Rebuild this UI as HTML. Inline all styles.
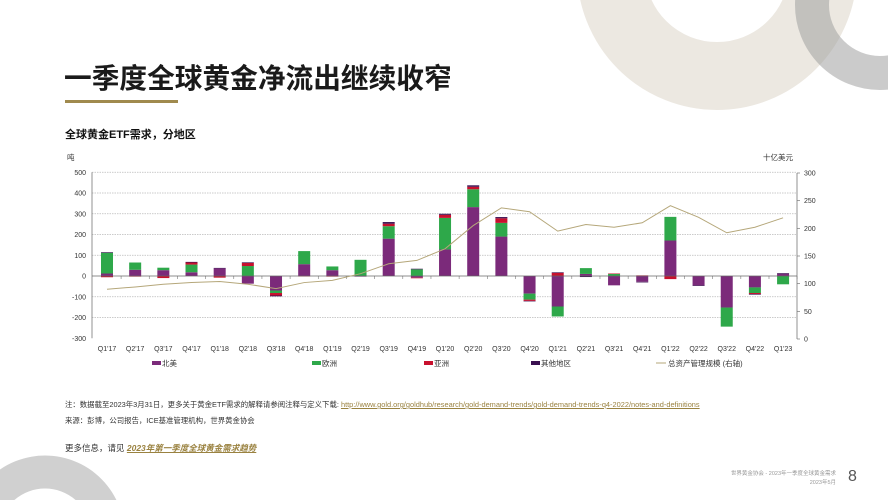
<!DOCTYPE html>
<html style="overflow:hidden;width:888px;height:500px"><head><meta charset="utf-8">
<style>
html,body{margin:0;padding:0}
body{width:888px;height:500px;overflow:hidden;background:#fff;font-family:"Liberation Sans","Noto Sans CJK SC",sans-serif}
#wrap{position:relative;width:888px;height:500px;overflow:hidden}
.abs{position:absolute}
</style></head>
<body>
<div id="wrap">
<svg class="abs" style="left:0;top:0" width="888" height="500">
<circle cx="717" cy="-30" r="106" fill="none" stroke="#ece8e1" stroke-width="68"/>
<circle cx="880" cy="5" r="68" fill="none" stroke="rgba(160,160,160,0.55)" stroke-width="34"/>
<path d="M0,500 L0,469.5 A79.5 79.5 0 0 1 116.4,500 L75.6,500 A46.5 46.5 0 0 0 14.4,500 Z" fill="#d0d0d0"/>
</svg>

<div class="abs" style="left:64px;top:56px;font-size:27.7px;font-weight:bold;color:#1a1a1a">一季度全球黄金净流出继续收窄</div>
<div class="abs" style="left:65px;top:100px;width:113px;height:3px;background:#a08a4e"></div>
<div class="abs" style="left:65px;top:126px;font-size:11px;font-weight:bold;color:#111">全球黄金ETF需求，分地区</div>

<svg class="abs" style="left:0;top:0" width="888" height="500" id="chart"></svg>

<div class="abs" style="left:65px;top:399px;font-size:7.4px;color:#333;white-space:nowrap">注：数据截至2023年3月31日，更多关于黄金ETF需求的解释请参阅注释与定义下载: <span style="color:#9a8240;text-decoration:underline">http://www.gold.org/goldhub/research/gold-demand-trends/gold-demand-trends-q4-2022/notes-and-definitions</span></div>
<div class="abs" style="left:65px;top:415px;font-size:7.4px;color:#333">来源：彭博，公司报告，ICE基准管理机构，世界黄金协会</div>
<div class="abs" style="left:65px;top:442px;font-size:8.5px;color:#333">更多信息，请见 <span style="color:#9a8240;text-decoration:underline;font-style:italic;font-weight:bold">2023年第一季度全球黄金需求趋势</span></div>
<div class="abs" style="left:700px;top:470px;width:136px;text-align:right;font-size:5.5px;color:#999;line-height:9px">世界黄金协会 - 2023年一季度全球黄金需求<br>2023年5月</div>
<div class="abs" style="left:848px;top:468px;font-size:16px;line-height:18px;color:#555">8</div>
</div>

<script>
const categories=["Q1'17","Q2'17","Q3'17","Q4'17","Q1'18","Q2'18","Q3'18","Q4'18","Q1'19","Q2'19","Q3'19","Q4'19","Q1'20","Q2'20","Q3'20","Q4'20","Q1'21","Q2'21","Q3'21","Q4'21","Q1'22","Q2'22","Q3'22","Q4'22","Q1'23"];
const northAmerica=[12,30,28,18,37,-37,-70,57,28,-3,180,-8,128,332,190,-85,-147,10,-45,-28,171,-45,-152,-55,11];
const europe=[100,35,12,37,0,48,-12,63,18,78,60,32,152,86,66,-29,-48,28,10,0,114,0,-92,-27,-40];
const asia=[-6,-3,-10,10,-8,15,-12,-2,-3,0,12,-3,15,12,22,-6,15,0,2,3,-15,0,0,-5,0];
const other=[3,0,0,3,2,3,-4,0,0,0,8,3,5,7,6,-2,3,-5,0,-3,0,-3,0,-3,3];
const aum=[90,94,99,102,104,99,91,102,106,118,136,142,163,205,237,230,195,207,202,210,241,220,192,202,219];
const leftTicks=[500,400,300,200,100,0,-100,-200,-300];
const rightTicks=[300,250,200,150,100,50,0];

const svg=document.getElementById('chart');
const NS='http://www.w3.org/2000/svg';
const X0=107,DX=28.17,BW=12;
const yL=v=>276-v*0.2075;
const yR=v=>339-v*(166/300);
const xC=i=>X0+i*DX;
function mk(t,a){const e=document.createElementNS(NS,t);for(const k in a)e.setAttribute(k,a[k]);svg.appendChild(e);return e;}

leftTicks.forEach(v=>{
  if(v!==0&&v!==-300){const g=mk('line',{x1:92,x2:797,y1:yL(v),y2:yL(v),stroke:'#bbb','stroke-width':0.7,'stroke-dasharray':'1.5,1'});
  
  }
  const t=mk('text',{x:86,y:yL(v)+2.5,'text-anchor':'end','font-size':7,fill:'#333'});
  t.textContent=v;
  
  
});
rightTicks.forEach(v=>{
  const t=mk('text',{x:804,y:yR(v)+2.5,'font-size':7,fill:'#333'});
  t.textContent=v;
  
  
  mk('line',{x1:797,x2:800,y1:yR(v),y2:yR(v),stroke:'#777','stroke-width':0.7});
});
const la=mk('line',{x1:92,x2:92,y1:yL(500),y2:yL(-300),stroke:'#777','stroke-width':0.8});


const ra=mk('line',{x1:797,x2:797,y1:yR(300),y2:yR(0),stroke:'#777','stroke-width':0.8});


const yu=mk('text',{x:67,y:160,'font-size':7.5,fill:'#333'});yu.textContent='吨';


const yu2=mk('text',{x:763,y:160,'font-size':7.5,fill:'#333'});yu2.textContent='十亿美元';



const series=[[northAmerica,'#7b2a7a','bar-north-america'],[europe,'#2ea84a','bar-europe'],[asia,'#c8102e','bar-asia'],[other,'#3a1050','bar-other']];
categories.forEach((c,i)=>{
  let pos=0,neg=0;
  series.forEach(([arr,col,nm])=>{
    const v=arr[i];if(!v)return;
    let a,b;
    if(v>0){a=pos;b=pos+v;pos=b;}else{a=neg;b=neg+v;neg=b;}
    const y1=yL(Math.max(a,b)),y2=yL(Math.min(a,b));
    const r=mk('rect',{x:xC(i)-BW/2,y:y1,width:BW,height:Math.max(0.5,y2-y1),fill:col});
    
    
  });
  const t=mk('text',{x:xC(i),y:351,'text-anchor':'middle','font-size':7,fill:'#333'});
  t.textContent=c;
  
  
  mk('line',{x1:xC(i)+DX/2,x2:xC(i)+DX/2,y1:276,y2:279,stroke:'#777','stroke-width':0.6});
});
const zl=mk('line',{x1:92,x2:797,y1:276,y2:276,stroke:'#666','stroke-width':0.8});



const pl=mk('polyline',{points:aum.map((v,i)=>xC(i)+','+yR(v)).join(' '),fill:'none',stroke:'#b5a77a','stroke-width':1});



const leg=[['北美','#7b2a7a',152],['欧洲','#2ea84a',312],['亚洲','#c8102e',424],['其他地区','#3a1050',531]];
leg.forEach(([l,c,x])=>{
  const g=document.createElementNS(NS,'g');svg.appendChild(g);
  
  
  const r=document.createElementNS(NS,'rect');r.setAttribute('x',x);r.setAttribute('y',361);r.setAttribute('width',9);r.setAttribute('height',4);r.setAttribute('fill',c);g.appendChild(r);
  const t=document.createElementNS(NS,'text');t.setAttribute('x',x+10);t.setAttribute('y',366);t.setAttribute('font-size',7.5);t.setAttribute('fill','#333');t.textContent=l;g.appendChild(t);
});
const lg=document.createElementNS(NS,'g');svg.appendChild(lg);


const ll=document.createElementNS(NS,'line');ll.setAttribute('x1',656);ll.setAttribute('x2',666);ll.setAttribute('y1',363);ll.setAttribute('y2',363);ll.setAttribute('stroke','#b5a77a');lg.appendChild(ll);
const lt=document.createElementNS(NS,'text');lt.setAttribute('x',668);lt.setAttribute('y',366);lt.setAttribute('font-size',7.5);lt.setAttribute('fill','#333');lt.textContent='总资产管理规模 (右轴)';lg.appendChild(lt);
</script>
</body></html>
